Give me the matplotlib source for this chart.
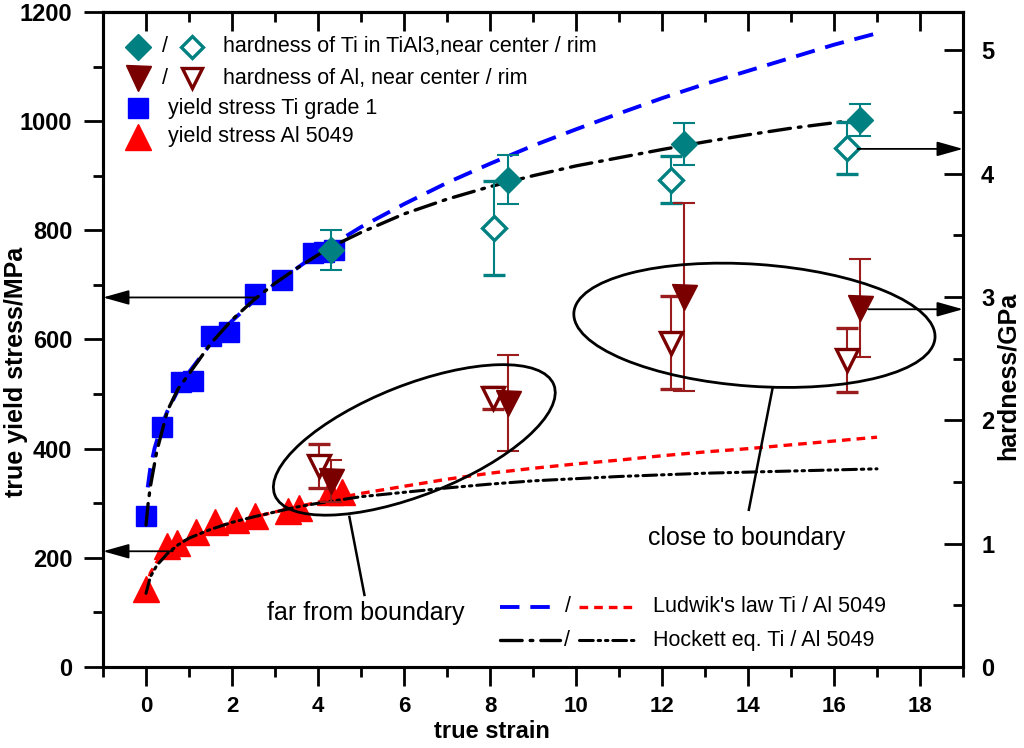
import matplotlib
matplotlib.use('Agg')
import matplotlib.pyplot as plt
from matplotlib.patches import Ellipse
from matplotlib.transforms import ScaledTranslation
from matplotlib.ticker import MultipleLocator

plt.rcParams['font.family'] = ['Liberation Sans', 'DejaVu Sans']

# yield stress measurements (MPa)
ti_strain = [0.0, 0.37, 0.82, 1.09, 1.51, 1.94, 2.54, 3.16, 3.88, 4.15, 4.38]
ti_stress = [277, 440, 522, 524, 607, 614, 684, 709, 758, 761, 764]
al_strain = [0.0, 0.48, 0.71, 1.16, 1.61, 2.09, 2.54, 3.3, 3.56, 4.27, 4.55]
al_stress = [143, 222, 228, 248, 266, 270, 276, 285, 291, 321, 321]

# hardness (GPa), Ti in TiAl3 near center / rim
ti_hc_strain = [4.3, 8.41, 12.52, 16.61]
ti_hc = [3.38, 3.95, 4.24, 4.435]
ti_hc_err = [0.16, 0.20, 0.17, 0.13]
ti_hr_strain = [8.1, 12.21, 16.3]
ti_hr = [3.56, 3.95, 4.21]
ti_hr_err = [0.38, 0.19, 0.21]

# hardness (GPa), Al near center / rim
al_hc_strain = [4.3, 8.41, 12.52, 16.61]
al_hc = [1.51, 2.14, 3.0, 2.91]
al_hc_err = [0.17, 0.39, 0.76, 0.40]
al_hr_strain = [4.02, 8.06, 12.21, 16.3]
al_hr = [1.63, 2.18, 2.63, 2.49]
al_hr_err = [0.18, 0.09, 0.38, 0.26]

# model curves
lud_ti_x = [0.04, 0.1, 0.2, 0.35, 0.5, 0.75, 1, 1.5, 2, 2.5, 3, 4, 5, 6, 7, 8, 9, 10,
            11, 12, 13, 14, 15, 16, 17]
lud_ti_y = [329, 364, 401, 440, 469, 508, 540, 592, 634, 670, 702, 758, 806, 848, 887,
            922, 955, 985, 1014, 1042, 1068, 1092, 1116, 1140, 1161]
hoc_ti_x = [0, 0.05, 0.1, 0.25, 0.5, 0.75, 1, 1.5, 2, 2.5, 3, 3.5, 4, 4.5, 5, 6, 7, 8,
            9, 10, 11, 12, 13, 14, 15, 16, 16.5]
hoc_ti_y = [260, 300, 330, 395, 470, 510, 537, 592, 636, 672, 703, 730, 755, 777, 796,
            830, 857, 880, 900, 918, 933, 948, 962, 975, 987, 997, 1002]
lud_al_x = [0, 0.1, 0.25, 0.5, 1, 1.5, 2, 3, 4, 5, 6, 7, 8, 9, 10, 11, 12, 13, 14, 15,
            16, 17]
lud_al_y = [140, 172, 192, 212, 236, 252, 265, 284, 302, 318, 331, 344, 355, 364, 372,
            379, 387, 394, 400, 407, 414, 421]
hoc_al_x = [0, 0.1, 0.25, 0.5, 0.75, 1, 1.5, 2, 2.5, 3, 3.5, 4, 5, 6, 7, 8, 9, 10, 11,
            12, 13, 14, 15, 16, 17]
hoc_al_y = [135, 165, 186, 208, 224, 236, 252, 265, 275, 284, 293, 300, 312, 320, 328,
            335, 341, 345, 349, 352, 355, 357, 359, 361, 363]

x_ticks = [0, 2, 4, 6, 8, 10, 12, 14, 16, 18]

TEAL = '#008080'
DRED = '#7a0000'
EBAR = '#9a1c1c'
ARROW = '-|>,head_length=1.6,head_width=0.45'
GPA = 5.31 / 1200  # right axis units per MPa


def main():
  fig = plt.figure(figsize=(10.24, 7.48), dpi=100)
  ax = fig.add_axes([0.1006, 0.1083, 0.8398, 0.8757])
  ax2 = ax.twinx()

  ax.set_xlim(-1, 19)
  ax.set_ylim(0, 1200)
  ax2.set_ylim(0, 5.31)

  style_axes(ax, ax2)

  # model curves
  ax.plot(lud_ti_x, lud_ti_y, color='blue', lw=2.8, ls=(0, (5.0, 2.8)), zorder=2)
  ax.plot(lud_al_x, lud_al_y, color='red', lw=2.4, ls=(0, (2.6, 1.8)), zorder=2)

  # yield stress points
  ax.plot(ti_strain, ti_stress, 's', color='blue', ms=15, zorder=3)
  ax.plot(al_strain, al_stress, '^', color='red', ms=19, zorder=3)

  ax.plot(hoc_ti_x, hoc_ti_y, color='black', lw=2.4,
          ls=(0, (6.5, 2.4, 0.8, 2.4)), dash_capstyle='round', zorder=4)
  ax.plot(hoc_al_x, hoc_al_y, color='black', lw=2.2,
          ls=(0, (4.5, 1.6, 0.8, 1.6, 0.8, 1.6)), dash_capstyle='round', zorder=4)

  # hardness points
  eb = dict(elinewidth=1.5, capsize=8, capthick=1.5, ls='none')
  ax2.errorbar(ti_hr_strain, ti_hr, yerr=ti_hr_err, fmt='D', ms=12, mfc='white',
               mec=TEAL, mew=2.4, ecolor=TEAL, **eb)
  ax2.errorbar(ti_hc_strain, ti_hc, yerr=ti_hc_err, fmt='D', ms=13, mfc=TEAL,
               mec=TEAL, ecolor=TEAL, **eb)
  ax2.errorbar(al_hr_strain, al_hr, yerr=al_hr_err, fmt='v', ms=16, mfc='white',
               mec=DRED, mew=2.4, ecolor=EBAR, **eb)
  ax2.errorbar(al_hc_strain, al_hc, yerr=al_hc_err, fmt='v', ms=18, mfc=DRED,
               mec=DRED, ecolor=EBAR, **eb)

  # arrows to the matching axis
  arr = dict(arrowstyle=ARROW, color='black', lw=1.3, shrinkA=0, shrinkB=0)
  ax2.annotate('', xy=(-1, 677 * GPA), xytext=(2.56, 677 * GPA),
               arrowprops=arr, annotation_clip=False)
  ax2.annotate('', xy=(-1, 212 * GPA), xytext=(0.62, 212 * GPA),
               arrowprops=arr, annotation_clip=False)
  ax2.annotate('', xy=(19, 4.20), xytext=(16.55, 4.20), arrowprops=arr,
               annotation_clip=False)
  ax2.annotate('', xy=(19, 2.90), xytext=(16.8, 2.90), arrowprops=arr,
               annotation_clip=False)

  # ellipses around the hardness groups
  ring(fig, ax, ax2, 6.24, 416, 3.0, 1.1, 21.6)
  ring(fig, ax, ax2, 14.15, 626, 3.62, 1.22, -4)
  ax2.plot([4.73, 5.08], [275 * GPA, 132 * GPA], color='black', lw=1.8)
  ax2.plot([14.57, 14.02], [510 * GPA, 288 * GPA], color='black', lw=1.8)
  ax.text(5.1, 99, 'far from boundary', fontsize=18, ha='center', va='center')
  ax.text(13.96, 236, 'close to boundary', fontsize=18, ha='center', va='center')

  draw_legend(ax2)

  fig.text(0.0156, 0.503, 'true yield stress/MPa', rotation=90, fontsize=18,
           fontweight='bold', ha='center', va='center')
  fig.text(0.984, 0.497, 'hardness/GPa', rotation=90, fontsize=18,
           fontweight='bold', ha='center', va='center')
  fig.text(0.48, 0.022, 'true strain', fontsize=17, fontweight='bold',
           ha='center', va='center')

  fig.savefig('out.png', dpi=100)


# ellipse with a fixed size in inches, centred on a data point
def ring(fig, ax, target, cx, cy, w, h, angle):
  trans = fig.dpi_scale_trans + ScaledTranslation(cx, cy, ax.transData)
  e = Ellipse((0, 0), w, h, angle=angle, fill=False, lw=2.0, ec='black',
              transform=trans, zorder=6)
  target.add_patch(e)


def style_axes(ax, ax2):
  for a in (ax, ax2):
    for s in a.spines.values():
      s.set_linewidth(2.2)

  ax.set_xticks(x_ticks)
  ax.xaxis.set_minor_locator(MultipleLocator(1))
  ax.yaxis.set_major_locator(MultipleLocator(200))
  ax.yaxis.set_minor_locator(MultipleLocator(100))
  ax.tick_params(axis='both', which='both', direction='out', width=2.0,
                 top=False, right=False, labelsize=16)
  ax.tick_params(axis='y', labelsize=17, pad=8)
  ax.tick_params(which='major', length=14)
  ax.tick_params(which='minor', length=7)
  ax.tick_params(axis='x', pad=7)
  for lab in ax.get_xticklabels() + ax.get_yticklabels():
    lab.set_fontweight('bold')

  top = ax.secondary_xaxis('top')
  top.set_xticks(x_ticks)
  top.xaxis.set_minor_locator(MultipleLocator(1))
  top.tick_params(which='both', direction='in', width=2.0, labeltop=False)
  top.tick_params(which='major', length=14)
  top.tick_params(which='minor', length=7)
  top.spines['top'].set_linewidth(2.2)

  ax2.yaxis.set_major_locator(MultipleLocator(1))
  ax2.yaxis.set_minor_locator(MultipleLocator(0.5))
  ax2.tick_params(axis='y', which='both', direction='in', width=2.0,
                  labelsize=17, pad=13)
  ax2.tick_params(which='major', length=14)
  ax2.tick_params(which='minor', length=7)
  for lab in ax2.get_yticklabels():
    lab.set_fontweight('bold')


# hand-made legends, positions in axes fractions
def draw_legend(ax2):
  t = ax2.transAxes
  kw = dict(transform=t, clip_on=False, ls='none')
  xm, xs, xo, xt = 0.0407, 0.0721, 0.1031, 0.1395

  ax2.plot([xm], [0.9466], 'D', ms=13, color=TEAL, **kw)
  ax2.plot([xo], [0.9466], 'D', ms=11, mfc='white', mec=TEAL, mew=2.4, **kw)
  ax2.plot([xm], [0.8988], 'v', ms=18, color=DRED, **kw)
  ax2.plot([xo], [0.8988], 'v', ms=15, mfc='white', mec=DRED, mew=2.4, **kw)
  ax2.plot([xm], [0.8530], 's', ms=15, color='blue', **kw)
  ax2.plot([xm], [0.8097], '^', ms=19, color='red', **kw)

  fs = 15.5
  for y in (0.9466, 0.8988):
    ax2.text(xs, y, '/', transform=t, fontsize=fs, ha='center', va='center')
  ax2.text(xt, 0.9466, 'hardness of Ti in TiAl3,near center / rim', transform=t,
           fontsize=fs, va='center')
  ax2.text(xt, 0.8988, 'hardness of Al, near center / rim', transform=t,
           fontsize=fs, va='center')
  ax2.text(0.0759, 0.8530, 'yield stress Ti grade 1', transform=t, fontsize=fs,
           va='center')
  ax2.text(0.0759, 0.8097, 'yield stress Al 5049', transform=t, fontsize=fs,
           va='center')

  # line legend, lower right
  y1, y2 = 0.0921, 0.0412
  ax2.plot([0.4616, 0.5209], [y1, y1], color='blue', lw=2.8, ls=(0, (5.0, 2.8)),
           transform=t)
  ax2.plot([0.5535, 0.6186], [y1, y1], color='red', lw=2.4, ls=(0, (2.6, 1.8)),
           transform=t)
  ax2.plot([0.4616, 0.5314], [y2, y2], color='black', lw=2.4,
           ls=(0, (6.5, 2.4, 0.8, 2.4)), dash_capstyle='round', transform=t)
  ax2.plot([0.5535, 0.6209], [y2, y2], color='black', lw=2.2,
           ls=(0, (4.5, 1.6, 0.8, 1.6, 0.8, 1.6)), dash_capstyle='round', transform=t)
  ax2.text(0.5407, y1, '/', transform=t, fontsize=fs, ha='center', va='center')
  ax2.text(0.5395, y2, '/', transform=t, fontsize=fs, ha='center', va='center')
  ax2.text(0.6392, y1, "Ludwik's law Ti / Al 5049", transform=t, fontsize=fs,
           va='center')
  ax2.text(0.6392, y2, 'Hockett eq. Ti / Al 5049', transform=t, fontsize=fs,
           va='center')


main()
